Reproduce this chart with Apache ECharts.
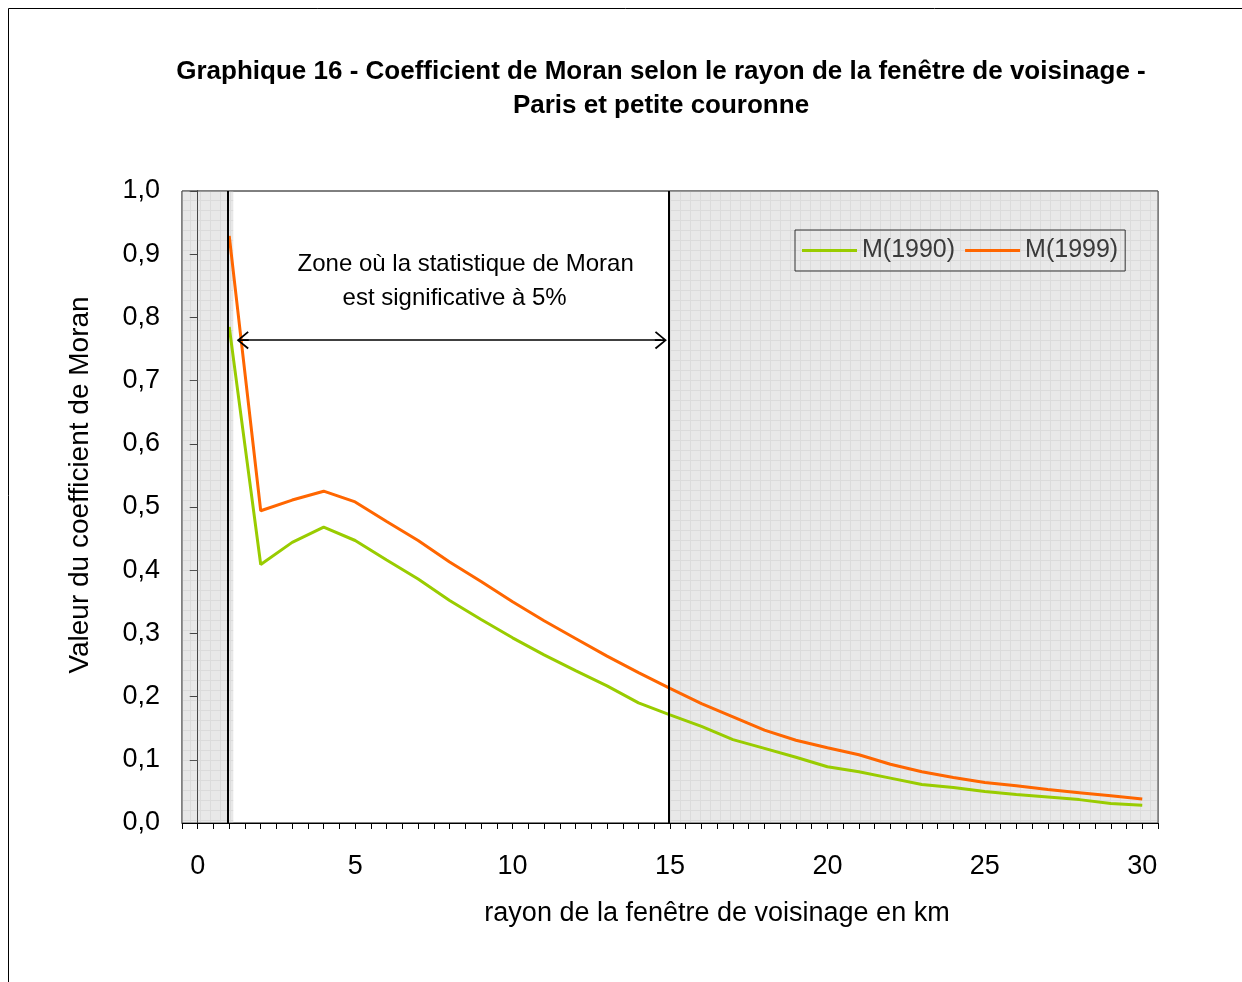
<!DOCTYPE html>
<html>
<head>
<meta charset="utf-8">
<script src="https://cdn.jsdelivr.net/npm/echarts@6/dist/echarts.min.js"></script>
<style>
html,body{margin:0;padding:0;background:#fff;}
#echartsBox{width:1242px;height:982px;}
</style>
</head>
<body>
<div id="echartsBox"></div>
<script>
// rayon de la fenetre (km)
var rayon = [1,2,3,4,5,6,7,8,9,10,11,12,13,14,15,16,17,18,19,20,21,22,23,24,25,26,27,28,29,30];
var m1990 = [0.785,0.409,0.444,0.468,0.447,0.416,0.386,0.352,0.322,0.293,0.266,0.241,0.217,0.19,0.171,
	0.153,0.132,0.118,0.104,0.089,0.081,0.071,0.061,0.056,0.050,0.045,0.041,0.037,0.031,0.028];
var m1999 = [0.929,0.494,0.511,0.525,0.508,0.477,0.447,0.413,0.382,0.35,0.32,0.292,0.264,0.238,0.213,
	0.189,0.168,0.147,0.131,0.119,0.108,0.093,0.081,0.072,0.064,0.059,0.053,0.048,0.043,0.038];
var legendNames = ['M(1990)', 'M(1999)'];
var colorList = ['#99cc00', '#ff6600'];
var zoneGauche = [-0.5, 1.13];
var zoneDroite = [14.95, 30.5];
var xTicks = [0, 5, 10, 15, 20, 25, 30];

var FONT = '"Liberation Sans", Arial, sans-serif';

var toPairs = function(ys) {
	var out = [];
	for (var i = 0; i < rayon.length; i++) {
		out.push([rayon[i], ys[i]]);
	}
	return out;
};

// motif gris quadrille (zones non significatives)
var makePattern = function() {
	var c = document.createElement('canvas');
	c.width = 10; c.height = 10;
	var ctx = c.getContext('2d');
	ctx.fillStyle = 'rgba(190,190,190,0.36)';
	ctx.fillRect(0, 0, 10, 10);
	ctx.fillStyle = 'rgba(160,160,160,0.18)';
	ctx.fillRect(0, 0, 10, 1);
	ctx.fillRect(0, 1, 1, 9);
	return c;
};

var arrowPath = 'path://M5,0 L10,9 L9.2,10 L5,2.2 L0.8,10 L0,9 Z M4.55,0.6 L5.45,0.6 L5.45,10 L4.55,10 Z';

var chart = echarts.init(document.getElementById('echartsBox'));
chart.setOption({
	animation: false,
	textStyle: { fontFamily: FONT },
	title: {
		text: 'Graphique 16 - Coefficient de Moran selon le rayon de la fenêtre de voisinage -\nParis et petite couronne',
		left: 656,
		top: 50,
		textAlign: 'center',
		textStyle: {
			color: '#000',
			fontSize: 26,
			fontWeight: 'bold',
			fontFamily: FONT,
			lineHeight: 34
		}
	},
	legend: {
		data: legendNames,
		left: 795,
		top: 230,
		padding: [8, 7, 8, 7],
		itemGap: 10,
		itemWidth: 55,
		itemHeight: 3,
		icon: 'rect',
		borderColor: '#333',
		borderWidth: 1,
		z: 10,
		textStyle: { color: '#3a3a3a', fontSize: 25, fontFamily: FONT }
	},
	grid: {
		left: 182,
		right: 84,
		top: 191,
		bottom: 159,
		show: true,
		borderColor: '#000',
		borderWidth: 1,
		containLabel: false
	},
	xAxis: {
		type: 'value',
		min: -0.5,
		max: 30.5,
		interval: 0.5,
		axisLine: { lineStyle: { color: '#000', width: 1 } },
		axisTick: { show: true, length: 6, lineStyle: { color: '#000' } },
		splitLine: { show: false },
		axisLabel: {
			color: '#000',
			fontSize: 27,
			margin: 30,
			fontFamily: FONT,
			formatter: function(v) {
				return xTicks.indexOf(v) >= 0 ? String(v) : '';
			}
		}
	},
	yAxis: {
		type: 'value',
		min: 0,
		max: 1,
		interval: 0.1,
		axisLine: { show: true, lineStyle: { color: '#000', width: 1 } },
		axisTick: { show: true, length: 8, lineStyle: { color: '#000' } },
		splitLine: { show: false },
		axisLabel: {
			color: '#000',
			fontSize: 27,
			margin: 22,
			fontFamily: FONT,
			formatter: function(v) {
				return v.toFixed(1).replace('.', ',');
			}
		}
	},
	graphic: [
		{ type: 'rect', silent: true, shape: { x: 8.5, y: 8.5, width: 1400, height: 1200 },
		  style: { fill: 'none', stroke: '#000', lineWidth: 1 } },
		{ type: 'text', silent: true, x: 717, y: 914, style: {
			text: 'rayon de la fenêtre de voisinage en km',
			align: 'center', verticalAlign: 'middle', fill: '#000', fontSize: 27, fontFamily: FONT } },
		{ type: 'text', silent: true, x: 80, y: 485, rotation: Math.PI / 2, style: {
			text: 'Valeur du coefficient de Moran',
			align: 'center', verticalAlign: 'middle', fill: '#000', fontSize: 28, fontFamily: FONT } }
	],
	series: [
		{
			name: legendNames[0],
			type: 'line',
			data: toPairs(m1990),
			symbol: 'none',
			z: 2,
			lineStyle: { color: colorList[0], width: 3 },
			itemStyle: { color: colorList[0] }
		},
		{
			name: legendNames[1],
			type: 'line',
			data: toPairs(m1999),
			symbol: 'none',
			z: 2,
			lineStyle: { color: colorList[1], width: 3 },
			itemStyle: { color: colorList[1] }
		},
		{
			// zones grisees, traits verticaux, fleche et texte
			type: 'line',
			data: [],
			z: 5,
			markArea: {
				silent: true,
				itemStyle: { color: { image: makePattern(), repeat: 'repeat' } },
				data: [
					[{ coord: [zoneGauche[0], 0] }, { coord: [zoneGauche[1], 1] }],
					[{ coord: [zoneDroite[0], 0] }, { coord: [zoneDroite[1], 1] }]
				]
			},
			markLine: {
				silent: true,
				symbol: ['none', 'none'],
				label: { show: false },
				lineStyle: { color: '#000', width: 2, type: 'solid' },
				data: [
					[{ coord: [0.95, 0] }, { coord: [0.95, 1] }],
					[{ coord: [14.95, 0] }, { coord: [14.95, 1] }],
					[
						{ coord: [1.43, 0.764], symbol: arrowPath, symbolSize: [18, 12], lineStyle: { width: 1.5 } },
						{ coord: [14.71, 0.764], symbol: arrowPath, symbolSize: [18, 12], lineStyle: { width: 1.5 } }
					]
				]
			},
			markPoint: {
				silent: true,
				symbol: 'circle',
				symbolSize: 1,
				itemStyle: { color: 'rgba(0,0,0,0)' },
				label: {
					show: true,
					position: 'inside',
					color: '#000',
					fontSize: 24,
					fontFamily: FONT,
					align: 'center',
					formatter: '{b}'
				},
				data: [
					{ name: 'Zone où la statistique de Moran', coord: [8.51, 0.884] },
					{ name: 'est significative à 5%', coord: [8.16, 0.83] }
				]
			}
		}
	]
});
</script>
</body>
</html>
